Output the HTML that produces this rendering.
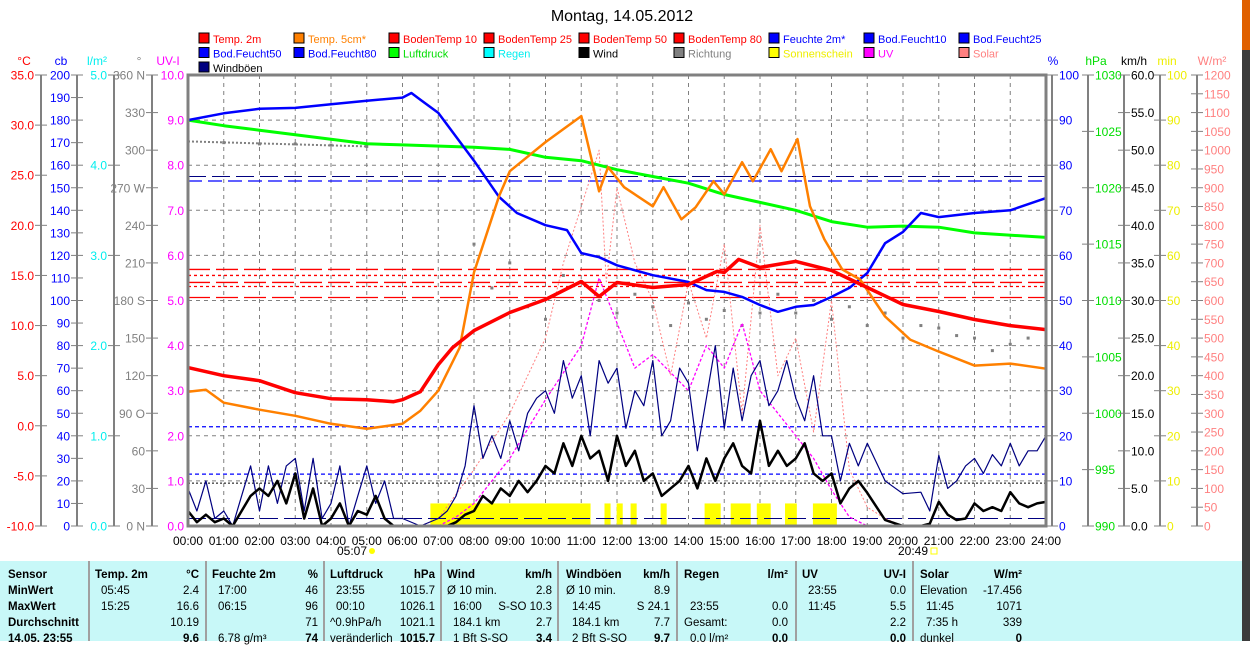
<!DOCTYPE html>
<html><head><meta charset="utf-8">
<style>
body{margin:0;width:1250px;height:641px;overflow:hidden;background:#fff;font-family:"Liberation Sans",sans-serif;}
svg{position:absolute;left:0;top:0}
#tbl{position:absolute;left:0;top:561px;width:1242px;height:80px;background:#c8f8f8;font-size:11.5px;color:#000}
.c{position:absolute;white-space:nowrap}
.b{font-weight:bold}
.sep{position:absolute;top:0;width:2px;height:80px;background:#a0a0a0}
#edge{position:absolute;left:1242px;top:0;width:8px;height:641px;background:#3c3c3c}
#edge2{position:absolute;left:1242px;top:0;width:8px;height:50px;background:#e06000}
</style></head><body>
<div id="edge"></div>
<div id="edge2"></div>
<svg id="chart" width="1250" height="561"></svg>
<div id="tbl"></div>
<script>
// ---- data ----
const hours = [0,1,2,3,4,5,5.75,6,6.5,7,7.4,8,9,10,11,11.5,12,13,14,14.8,15,15.4,16,17,18,19,20,21,22,23,24];
const temp2m = [5.8,5.0,4.5,3.3,2.7,2.6,2.4,2.6,3.4,6.1,7.8,9.5,11.3,12.6,14.4,12.9,14.3,13.8,14.1,15.4,15.3,16.6,15.8,16.4,15.5,13.8,12.1,11.4,10.6,10.0,9.6];
const t5Hours = [0,0.5,1,2,3,4,5,6,6.5,7,7.6,8,8.7,9,10,11,11.5,11.75,12.2,13,13.3,13.8,14.2,14.7,15,15.5,15.8,16.3,16.6,17.05,17.4,17.8,18.3,18.8,19.5,20.2,21,22,23,24];
const temp5cm = [3.4,3.6,2.3,1.6,1.0,0.2,-0.3,0.2,1.5,3.5,7.8,15.3,22.9,25.4,28.3,30.9,23.4,25.8,23.8,21.9,23.8,20.6,21.8,24.4,23.1,26.3,24.4,27.6,25.4,28.6,21.9,18.6,15.6,14.6,10.9,8.6,7.4,6.0,6.2,5.7];
const humHours = [0,1,2,3,4,5,6,6.25,6.5,7,8,8.7,9.2,10,10.6,11,11.5,12,13,14,14.5,15,15.5,16,16.5,17,17.5,18,18.5,19,19.5,20,20.5,21,22,23,24];
const humidity = [90,91.5,92.5,92.7,93.5,94.3,95,96,94.5,91.6,81,73,69.4,66.7,65.6,60.5,59.6,57.8,55.6,54.1,52.3,51.9,50.8,49,47.5,48.6,49,50.8,52.8,56.1,62.7,65.2,69.4,68.5,69.4,70,72.7];
const pHours = [0,1,2,3,4,5,6,8,9,10,11,12,13,14,14.8,15,16,17,18,19,20,21,22,24];
const pressure = [1026,1025.5,1025.1,1024.7,1024.3,1023.9,1023.8,1023.6,1023.4,1022.7,1022.4,1021.6,1021,1020.4,1019.6,1019.4,1018.7,1018,1017,1016.5,1016.6,1016.5,1016,1015.6];
const windHours = [0,0.25,0.5,0.75,1,1.25,1.5,1.75,2,2.25,2.5,2.75,3,3.25,3.5,3.75,4,4.25,4.5,4.75,5,5.25,5.5,5.75,6,6.5,7,7.25,7.5,7.75,8,8.25,8.5,8.75,9,9.25,9.5,9.75,10,10.25,10.5,10.75,11,11.25,11.5,11.75,12,12.25,12.5,12.75,13,13.25,13.5,13.75,14,14.25,14.5,14.75,15,15.25,15.5,15.75,16,16.25,16.5,16.75,17,17.25,17.5,17.75,18,18.25,18.5,18.75,19,19.5,20,20.5,20.75,21,21.25,21.5,21.75,22,22.25,22.5,22.75,23,23.25,23.5,23.75,24];
const gusts = [5,2,6,1,2,0,4,8,2,8,3,8,9,2,9,1,3,8,0,4,8,3,6,1,1,0,1,2,4,8,16,9,12,9,14,10,15,17,18,15,22,17,20,12,22,19,21,13,18,16,22,12,14,21,19,10,17,24,13,21,14,20,22,16,18,22,17,14,20,12,12,6,11,8,11,6,4.3,4.5,2,9.4,5,6,8,9,7,9.5,8,11,8,10,10,12];
const wind = [2,0.5,1.5,0.5,1,0,2,4,5,4,6,3,7,1,5,0,1,3,0,2,1.5,4,1,0,0,0,0,0,0.5,1.5,2,4,3,5,4,6,4.5,6,8,7,11,8,12,9,10,6,12,8,10,6,7,4,5,6,8,5,9,6,9,11,8,7,14,8,10,8,9,11,7,6,7,3,5,6,4.4,0.8,0,0,0.3,3.2,1.5,0.8,1,3,2,2.5,2,4.5,3,2.5,3,3.2];
const solarHours = [6.5,7,8,9,10,10.5,11,11.5,11.7,12,12.5,13,13.5,14,14.5,15,15.5,16,16.5,17,17.5,18,18.5,19,19.5,20];
const solar = [0,20,150,300,500,700,850,1000,650,900,700,600,400,650,500,750,300,800,400,500,250,600,150,50,20,0];
const uvHours = [7,7.5,8,9,10,11,11.5,12,12.5,13,14,14.5,15,15.5,16,16.5,17,17.5,18,18.5,19];
const uvIndex = [0,0.2,0.5,1.5,2.8,4,5.5,4.5,3.5,3.8,3,4,3.5,4.5,3,2.5,2,1.5,0.8,0.2,0];
const dirHours = [0,1,2,3,4,5,8,8.5,9,9.5,10,10.5,11,11.5,12,12.5,13,13.5,14,14.5,15,15.5,16,16.5,17,17.5,18,18.5,19,19.5,20,20.5,21,21.5,22,22.5,23,23.5];
const direction = [307,306,305,305,304,303,225,190,210,175,165,200,195,180,170,185,175,160,178,165,172,160,170,185,170,180,165,175,160,170,150,160,158,152,150,140,145,150];
const sunStart = [6.78,11.65,11.99,12.38,13.22,14.45,15.18,15.91,16.7,17.48];
const sunEnd = [11.26,11.82,12.16,12.55,13.39,14.9,15.74,16.3,17.03,18.15];
const sunMinutes = [5,5,5,5,5,5,5,5,5,5];
const soilTempLevels = [15.6,15.0,14.3,13.9,12.8];
const humLevels = [76.5,22,11.5];
const tempTicks = [35,30,25,20,15,10,5,0,-5,-10];
const cbTicks = [200,190,180,170,160,150,140,130,120,110,100,90,80,70,60,50,40,30,20,10,0];
const rainTicks = [5,4,3,2,1,0];
const dirTicks = ["360 N","330","300","270 W","240","210","180 S","150","120","90  O","60","30","0   N"];
const uvTicks = [10,9,8,7,6,5,4,3,2,1,0];
const pctTicks = [100,90,80,70,60,50,40,30,20,10,0];
const hpaTicks = [1030,1025,1020,1015,1010,1005,1000,995,990];
const kmhTicks = [60,55,50,45,40,35,30,25,20,15,10,5,0];
const minTicks = [100,90,80,70,60,50,40,30,20,10,0];
const wTicks = [1200,1150,1100,1050,1000,950,900,850,800,750,700,650,600,550,500,450,400,350,300,250,200,150,100,50,0];
const xLabels = ["00:00","01:00","02:00","03:00","04:00","05:00","06:00","07:00","08:00","09:00","10:00","11:00","12:00","13:00","14:00","15:00","16:00","17:00","18:00","19:00","20:00","21:00","22:00","23:00","24:00"];

// ---- scales ----
const L=188,R=1046,T=75,B=526;
const x=h=>L+(R-L)*h/24;
const lin=(a,b)=>v=>B-(B-T)*(v-a)/(b-a);
const yT=lin(-10,35), yCb=lin(0,200), yRain=lin(0,5), yDir=lin(0,360), yUV=lin(0,10),
      yPct=lin(0,100), yHpa=lin(990,1030), yKmh=lin(0,60), yMin=lin(0,100), yW=lin(0,1200);
const NS="http://www.w3.org/2000/svg";
const svg=document.getElementById('chart');
function mk(tag,attrs,parent){const e=document.createElementNS(NS,tag);for(const k in attrs)e.setAttribute(k,attrs[k]);(parent||svg).appendChild(e);return e;}
function txt(s,px,py,anchor,color,size,name){const e=mk('text',{x:px,y:py,'text-anchor':anchor,fill:color,'font-size':size||12,'font-family':'Liberation Sans, sans-serif'});e.textContent=s;


return e;}

// title
txt("Montag, 14.05.2012",622,21,'middle','#000',16,'chart-title');

// legend
const legNames=["Temp. 2m","Temp. 5cm*","BodenTemp 10","BodenTemp 25","BodenTemp 50","BodenTemp 80","Feuchte 2m*","Bod.Feucht10","Bod.Feucht25","Bod.Feucht50","Bod.Feucht80","Luftdruck","Regen","Wind","Richtung","Sonnenschein","UV","Solar","Windböen"];
const legBox=["#f00","#ff8000","#f00","#f00","#f00","#f00","#00f","#00f","#00f","#00f","#00f","#0f0","#0ff","#000","#808080","#ff0","#f0f","#ff8080","#000080"];
const legText=["#f00","#ff8000","#f00","#f00","#f00","#f00","#00f","#00f","#00f","#00f","#00f","#0d0","#0ee","#000","#808080","#ee0","#f0f","#ff8080","#000"];
legNames.forEach((n,i)=>{const c=i%9,r=Math.floor(i/9);const lx=199+c*95,ly=33+r*14.5;
 const g=mk('g',{});
 
 
 mk('rect',{x:lx,y:ly,width:10,height:10,fill:legBox[i],stroke:'#000','stroke-width':1},g);
 const t=txt(n,lx+14,ly+10,'start',legText[i],11,'legend-label');g.appendChild(t);});

// grid
for(let h=1;h<24;h++){const l=mk('line',{x1:x(h),x2:x(h),y1:T,y2:B,stroke:'#808080','stroke-dasharray':'4,4','stroke-width':1});}
for(let v=1;v<10;v++){const l=mk('line',{x1:L,x2:R,y1:yUV(v),y2:yUV(v),stroke:'#808080','stroke-dasharray':'4,4','stroke-width':1});}

// axes
function axis(lx,ticks,sc,labels,color,unit,ux,side,name,fmt){
 const g=mk('g',{});
 mk('line',{x1:lx,x2:lx,y1:T,y2:B,stroke:'#808080','stroke-width':2},g);
 ticks.forEach((v,i)=>{const yy=sc(v);mk('line',{x1:lx-6,x2:lx+6,y1:yy,y2:yy,stroke:'#808080'},g);
  const s=labels?labels[i]:fmt(v);
  const t=txt(s,side<0?lx-7:lx+7,yy+4.5,side<0?'end':'start',color,12,name+'-tick');g.appendChild(t);});
 const u=txt(unit,ux,65,'middle',color,12,name+'-unit');g.appendChild(u);}
const f1=v=>v.toFixed(1), f0=v=>String(v);
axis(41,tempTicks,yT,null,'#f00','°C',24,-1,'temp-axis',f1);
axis(77,cbTicks,yCb,null,'#00f','cb',61,-1,'cb-axis',f0);
axis(114,rainTicks,yRain,null,'#0ee','l/m²',97,-1,'rain-axis',f1);
axis(152,dirTicks.map((s,i)=>360-30*i),yDir,dirTicks,'#808080','°',139,-1,'direction-axis',f0);
axis(1052,pctTicks,yPct,null,'#00f','%',1053,1,'humidity-axis',f0);
axis(1088,hpaTicks,yHpa,null,'#0d0','hPa',1096,1,'pressure-axis',f0);
axis(1124,kmhTicks,yKmh,null,'#000','km/h',1134,1,'wind-axis',f1);
axis(1160,minTicks,yMin,null,'#ee0','min',1167,1,'sunshine-axis',f0);
axis(1197,wTicks,yW,null,'#ff8080','W/m²',1212,1,'solar-axis',f0);
// UV-I labels beside frame
uvTicks.forEach(v=>txt(v.toFixed(1),184,yUV(v)+4.5,'end','#f0f',12,'uv-tick'));
txt('UV-I',168,65,'middle','#f0f',12,'uv-unit');

// x labels
xLabels.forEach((s,i)=>txt(s,x(i),545,'middle','#000',12,'x-tick'));
txt('05:07',352,555,'middle','#000',12,'sunrise-label');
txt('20:49',913,555,'middle','#000',12,'sunset-label');
mk('circle',{cx:372,cy:551,r:3,fill:'#ff0'});
mk('rect',{x:931,y:548,width:6,height:6,fill:'none',stroke:'#ff0'});

// sunshine bars
sunStart.forEach((s,i)=>{const r=mk('rect',{x:x(s),y:yMin(sunMinutes[i]),width:x(sunEnd[i])-x(s),height:B-yMin(sunMinutes[i]),fill:'#ff0'});
});

// reference dashed lines
soilTempLevels.forEach((v,i)=>{const l=mk('line',{x1:L,x2:R,y1:yT(v),y2:yT(v),stroke:'#f00','stroke-width':1.3,'stroke-dasharray':i%2?'3,3':'22,6'});});
humLevels.forEach((v,i)=>{const l=mk('line',{x1:L,x2:R,y1:yPct(v),y2:yPct(v),stroke:'#00f','stroke-width':1.3,'stroke-dasharray':i==0?'14,6':'4,3'});});
mk('line',{x1:L,x2:R,y1:yPct(77.5),y2:yPct(77.5),stroke:'#000080','stroke-dasharray':'18,6'});
mk('line',{x1:L,x2:R,y1:yKmh(5.7),y2:yKmh(5.7),stroke:'#000','stroke-dasharray':'2,2'});
mk('line',{x1:L,x2:R,y1:yKmh(1),y2:yKmh(1),stroke:'#000080','stroke-dasharray':'18,6'});

function path(xs,ys,sc,color,w,name,dash){const d=xs.map((h,i)=>(i?'L':'M')+x(h).toFixed(1)+','+sc(ys[i]).toFixed(1)).join('');
 const p=mk('path',{d:d,fill:'none',stroke:color,'stroke-width':w,'stroke-linejoin':'round'});if(dash)p.setAttribute('stroke-dasharray',dash);
 return p;}

// direction dots
dirHours.forEach((h,i)=>{const r=mk('rect',{x:x(h)-1.5,y:yDir(direction[i])-1.5,width:3,height:3,fill:'#808080'});});
path([0,5],[307,303],yDir,'#808080',2,'direction-line','2,2');

path(solarHours,solar,yW,'#ff8080',1,'solar-line','2,2');
path(uvHours,uvIndex,yUV,'#f0f',1.3,'uv-line','3,2');
path(windHours,gusts,yKmh,'#000080',1.2,'gust-line');
path(windHours,wind,yKmh,'#000',2.5,'wind-line');
path(pHours,pressure,yHpa,'#0f0',3,'pressure-line');
path(humHours,humidity,yPct,'#00f',2.5,'soil-humidity-line');
path(t5Hours,temp5cm,yT,'#ff8000',2.5,'temp-5cm-line');
path(hours,temp2m,yT,'#f00',3.5,'temp-2m-line');

// frame
mk('rect',{x:L,y:T,width:R-L,height:B-T,fill:'none',stroke:'#808080','stroke-width':3});

// table
const tbl=document.getElementById('tbl');
const seps=[88,205,323,440,557,676,795,912];
seps.forEach(s=>{const d=document.createElement('div');d.className='sep';d.style.left=s+'px';
 tbl.appendChild(d);});
const rowsY=[8,24,40,56,72];
function cell(s,l,r,row,bold){const d=document.createElement('div');d.className='c'+(bold?' b':'');d.textContent=s;d.style.top=rowsY[row]+'px';
 if(r){d.style.right=(1242-r)+'px';}else d.style.left=l+'px';
 tbl.appendChild(d);}
cell('Sensor',8,0,0,1);cell('MinWert',8,0,1,1);cell('MaxWert',8,0,2,1);cell('Durchschnitt',8,0,3,1);cell('14.05. 23:55',8,0,4,1);
const cols=[[95,199,'Temp. 2m','°C',['05:45','2.4'],['15:25','16.6'],['','10.19'],['','9.6']],
 [212,318,'Feuchte 2m','%',['17:00','46'],['06:15','96'],['','71'],['6.78 g/m³','74']],
 [330,435,'Luftdruck','hPa',['23:55','1015.7'],['00:10','1026.1'],['^0.9hPa/h','1021.1'],['veränderlich','1015.7']],
 [447,552,'Wind','km/h',['Ø 10 min.','2.8'],['16:00','S-SO 10.3'],['184.1 km','2.7'],['1 Bft S-SO','3.4']],
 [566,670,'Windböen','km/h',['Ø 10 min.','8.9'],['14:45','S 24.1'],['184.1 km','7.7'],['2 Bft S-SO','9.7']],
 [684,788,'Regen','l/m²',['',''],['23:55','0.0'],['Gesamt:','0.0'],['0.0 l/m²','0.0']],
 [802,906,'UV','UV-I',['23:55','0.0'],['11:45','5.5'],['','2.2'],['','0.0']],
 [920,1022,'Solar','W/m²',['Elevation','-17.456'],['11:45','1071'],['7:35 h','339'],['dunkel','0']]];
cols.forEach(c=>{cell(c[2],c[0],0,0,1);cell(c[3],0,c[1],0,1);
 for(let r=1;r<=4;r++){const v=c[3+r];if(v[0])cell(v[0],c[0]+(v[0].match(/^\d/)?6:0),0,r,0);if(v[1])cell(v[1],0,c[1],r,r==4);}});
</script>
</body></html>
